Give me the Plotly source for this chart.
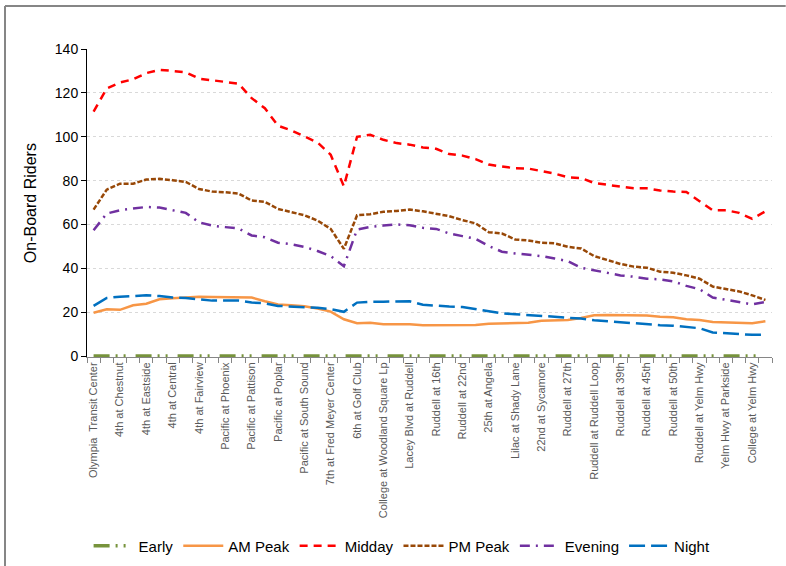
import plotly.graph_objects as go

stop_labels = ["Olympia  Transit Center", "4th at Chestnut", "4th at Eastside", "4th at Central",
               "4th at Fairview", "Pacific at Phoenix", "Pacific at Pattison", "Pacific at Poplar",
               "Pacific at South Sound", "7th at Fred Meyer Center", "6th at Golf Club",
               "College at Woodland Square Lp", "Lacey Blvd at Ruddell", "Ruddell at 16th",
               "Ruddell at 22nd", "25th at Angela", "Lilac at Shady Lane", "22nd at Sycamore",
               "Ruddell at 27th", "Ruddell at Ruddell Loop", "Ruddell at 39th", "Ruddell at 45th",
               "Ruddell at 50th", "Ruddell at Yelm Hwy", "Yelm Hwy at Parkside", "College at Yelm Hwy"]
stop_index = list(range(52))          # every stop; labels shown on every other stop
label_index = list(range(0, 52, 2))

early = [0] * 52
am_peak = [19.8, 21.4, 21.1, 23.2, 23.9, 25.9, 26.4, 26.7, 27.1, 27,
           26.8, 26.8, 26.7, 25, 23.5, 23.2, 22.7, 21.7, 20.3, 16.8,
           15, 15.2, 14.5, 14.5, 14.5, 14.1, 14.1, 14.1, 14.2, 14.2,
           14.7, 14.8, 15, 15.2, 16.1, 16.4, 16.5, 17.4, 18.6, 18.8,
           18.8, 18.8, 18.5, 18, 17.7, 16.8, 16.5, 15.6, 15.5, 15.3,
           15, 15.9]
midday = [111.5, 122, 124.7, 126.2, 129, 130.5, 130, 129.4, 126.5, 125.6,
          125, 124.2, 117.6, 113, 105, 102.9, 100, 97.4, 91.8, 77.4,
          100, 100.9, 98.6, 97.1, 96.4, 95.1, 94.5, 92.1, 91.4, 89.8,
          87.3, 86.5, 85.6, 85.5, 84.5, 83.2, 81.5, 81.2, 78.9, 78,
          77.3, 76.5, 76.5, 75.5, 75, 74.8, 70.6, 66.5, 66.5, 65.3,
          62.6, 66]
pm_peak = [66.8, 75.9, 78.6, 78.6, 80.5, 80.8, 80.2, 79.4, 76.2, 75,
           74.7, 74.1, 70.9, 70.3, 67.1, 65.8, 64.2, 61.8, 58, 48.9,
           64.2, 64.7, 65.8, 66.2, 66.8, 66, 65, 63.8, 62, 60.5,
           56.5, 55.9, 53.2, 52.7, 51.7, 51.4, 49.8, 49.1, 45.6, 43.8,
           42, 40.8, 40.3, 38.5, 38, 36.8, 35.3, 31.7, 30.5, 29.5,
           27.7, 25.6]
evening = [57.4, 65, 66.5, 67.3, 68, 67.7, 66.5, 65.3, 61, 59.5,
           58.8, 58.2, 55, 54.2, 51.7, 51, 49.8, 47.9, 45.6, 41,
           57.7, 58.9, 59.5, 60, 59.7, 58.5, 58, 55.9, 54.7, 53.5,
           50.2, 47.6, 46.8, 46.1, 45.6, 44.5, 43.3, 40.3, 39.2, 38,
           36.8, 36.2, 35.3, 35, 34.1, 32, 30.5, 26.7, 25.6, 24.8,
           23.6, 24.7]
night = [22.9, 26.5, 27.1, 27.4, 27.7, 27.4, 26.7, 26.5, 25.9, 25.3,
         25.3, 25.3, 24.4, 24.1, 22.9, 22.6, 22.4, 22, 21.4, 20.2,
         24.4, 24.8, 24.8, 25, 25, 23.4, 22.9, 22.6, 22.4, 21.4,
         20.3, 19.5, 19.1, 18.8, 18.6, 18, 17.4, 17.1, 16.4, 15.9,
         15.6, 15, 14.5, 14.1, 13.9, 13.3, 12.7, 10.8, 10.5, 10.2,
         9.7, 9.8]

series = [
    ("Early", early, "#77933C", "16px,6px,2px,6px,2px,10px", 3.5),
    ("AM Peak", am_peak, "#F79646", "solid", 2.5),
    ("Midday", midday, "#FF0000", "8px,6px", 2.5),
    ("PM Peak", pm_peak, "#984807", "5px,2px", 2.5),
    ("Evening", evening, "#7030A0", "10px,6px,2px,6px", 2.5),
    ("Night", night, "#0070C0", "16px,6px", 2.5),
]

fig = go.Figure()
for name, vals, color, dash, w in series:
    fig.add_trace(go.Scatter(x=stop_index, y=vals, name=name, mode="lines",
                             line=dict(color=color, dash=dash, width=w)))

font = "Liberation Sans, Arial, sans-serif"
fig.update_layout(
    width=786, height=566,
    margin=dict(l=87, r=14, t=49, b=209, autoexpand=False),
    paper_bgcolor="white", plot_bgcolor="white",
    font=dict(family=font, color="black"),
    showlegend=True,
    legend=dict(orientation="h", x=0.46, xanchor="center", y=-0.614, yanchor="middle",
                font=dict(size=15, color="black"), itemwidth=40, traceorder="normal"),
    xaxis=dict(range=[-0.5, 51.5], tickmode="array", tickvals=label_index, ticktext=stop_labels,
               tickangle=-90, tickfont=dict(size=11, color="#595959"), ticks="",
               showline=True, linecolor="#868686", linewidth=1, showgrid=False, zeroline=False,
               layer="below traces",
               minor=dict(tickmode="linear", tick0=-0.5, dtick=1, ticks="outside", ticklen=5,
                          tickcolor="#868686", showgrid=False)),
    yaxis=dict(range=[-0.4, 140], tickvals=[0, 20, 40, 60, 80, 100, 120, 140],
               tickfont=dict(size=14, color="black"),
               showline=True, linecolor="black", linewidth=1, ticks="outside", ticklen=5,
               tickcolor="black", showgrid=True, gridcolor="#D9D9D9", griddash="dot",
               gridwidth=1, zeroline=False),
    annotations=[dict(text="On-Board Riders", x=-0.083, y=0.5, xref="paper", yref="paper",
                      textangle=-90, showarrow=False, font=dict(size=16, color="black"),
                      xanchor="center", yanchor="middle")],
    shapes=[
        dict(type="line", xref="paper", yref="paper", x0=-0.1197, x1=1.02, y0=1.1396, y1=1.1396,
             line=dict(color="#868686", width=2)),
        dict(type="line", xref="paper", yref="paper", x0=-0.1197, x1=-0.1197, y0=1.1396, y1=-0.7,
             line=dict(color="#868686", width=2)),
    ],
)
fig.write_html("out.html", config={"displayModeBar": False},
               post_script="document.body.style.margin='0';document.body.style.overflow='hidden';")
